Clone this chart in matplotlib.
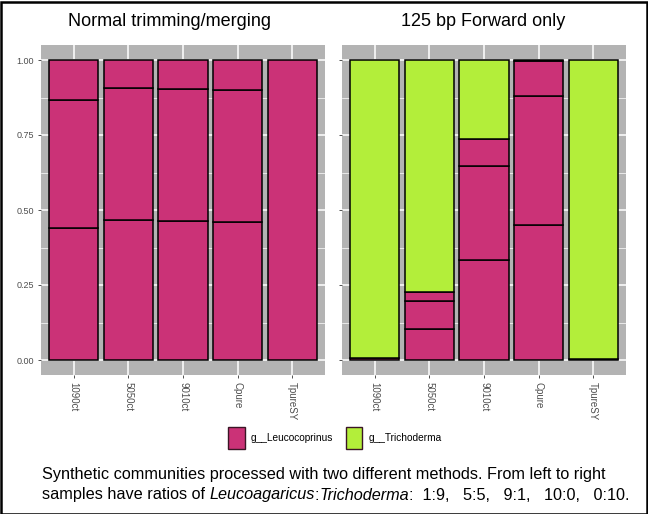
import matplotlib
matplotlib.use("Agg")
import matplotlib.pyplot as plt
from matplotlib.patches import Patch, Rectangle
import numpy as np

plt.rcParams['font.family'] = ['Liberation Sans', 'DejaVu Sans']

samples = ["1090ct", "5050ct", "9010ct", "Cpure", "TpureSY"]
genera = ["g__Leucocoprinus", "g__Trichoderma"]
colors = ["#CB3277", "#B3EE3A"]
panel_titles = ["Normal trimming/merging", "125 bp Forward only"]
y_ticks = [0.0, 0.25, 0.5, 0.75, 1.0]
y_ticklabels = ["0.00", "0.25", "0.50", "0.75", "1.00"]

# per-sample OTU relative abundances (stacked bottom -> top)
normal_leuco = [[0.4385, 0.4285, 0.133], [0.466, 0.441, 0.093], [0.463, 0.441, 0.096],
                [0.459, 0.440, 0.101], [1.0]]
normal_trich = [[], [], [], [], []]
forward_leuco = [[0.007], [0.102, 0.096, 0.028], [0.334, 0.314, 0.090],
                 [0.449, 0.431, 0.117], [0.002]]
forward_trich = [[0.993], [0.774], [0.262], [0.003], [0.998]]

W, H = 648, 514
fig = plt.figure(figsize=(W / 100, H / 100), dpi=100)

panel_gray = "#B3B3B3"
panels = [(normal_leuco, normal_trich), (forward_leuco, forward_trich)]
axes_px = [(41, 45, 325, 375), (342, 45, 626, 375)]

for i, ((leuco, trich), (x0, y0, x1, y1)) in enumerate(zip(panels, axes_px)):
    ax = fig.add_axes([x0 / W, 1 - y1 / H, (x1 - x0) / W, (y1 - y0) / H])
    ax.set_facecolor(panel_gray)
    xs = np.arange(1, len(samples) + 1)
    for j, x in enumerate(xs):
        bottom = 0.0
        for gi, otus in enumerate([leuco[j], trich[j]]):
            for v in otus:
                ax.bar(x, v, bottom=bottom, width=0.9, color=colors[gi],
                       edgecolor="black", linewidth=1.1, zorder=3)
                bottom += v
    ax.set_xlim(0.4, 5.6)
    ax.set_ylim(-0.05, 1.05)
    ax.set_xticks(xs)
    ax.set_xticklabels(samples, rotation=270, fontsize=7, color="#4D4D4D")
    ax.set_yticks(y_ticks)
    ax.set_yticks([0.125, 0.375, 0.625, 0.875], minor=True)
    if i == 0:
        ax.set_yticklabels(y_ticklabels, fontsize=6.5, color="#4D4D4D")
    else:
        ax.set_yticklabels([])
    ax.grid(which="major", color="white", linewidth=1.1, zorder=0)
    ax.grid(which="minor", axis="y", color="white", linewidth=0.5, zorder=0)
    ax.set_axisbelow(True)
    ax.tick_params(axis="both", which="major", length=2.5, width=0.6, color="#333333", pad=2.5)
    ax.tick_params(axis="y", which="minor", length=0)
    for s in ax.spines.values():
        s.set_visible(False)

fig.text(170 / W, 1 - 22 / H, panel_titles[0], ha="center", va="center", fontsize=13)
fig.text(483 / W, 1 - 22 / H, panel_titles[1], ha="center", va="center", fontsize=13)

handles = [Patch(facecolor=colors[k], edgecolor="#3A1525", linewidth=1.0, label=genera[k])
           for k in range(2)]
fig.legend(handles=handles, loc="center", bbox_to_anchor=(335 / W, 1 - 438 / H), ncol=2,
           frameon=False, fontsize=7.3, handlelength=1.6, handleheight=3.1,
           handletextpad=0.6, columnspacing=1.3)

# caption
fs = 11.7
fig.text(42 / W, 1 - 475 / H, "Synthetic communities processed with two different methods. From left to right",
         ha="left", va="center", fontsize=fs)
parts = [("samples have ratios of ", "normal"), ("Leucoagaricus", "italic"), (":", "normal"),
         ("Trichoderma", "italic"), (":  1:9,   5:5,   9:1,   10:0,   0:10.", "normal")]
renderer = fig.canvas.get_renderer()
xpos = 42
for txt, style in parts:
    t = fig.text(xpos / W, 1 - 495 / H, txt, ha="left", va="center", fontsize=fs, style=style)
    bb = t.get_window_extent(renderer=renderer)
    xpos += bb.width

fig.patches.append(Rectangle((0.5 / W, 0.5 / H), 1 - 2 / W, 1 - 2 / H, transform=fig.transFigure,
                             fill=False, edgecolor="black", linewidth=1.8))

fig.savefig("out.png", dpi=100)
